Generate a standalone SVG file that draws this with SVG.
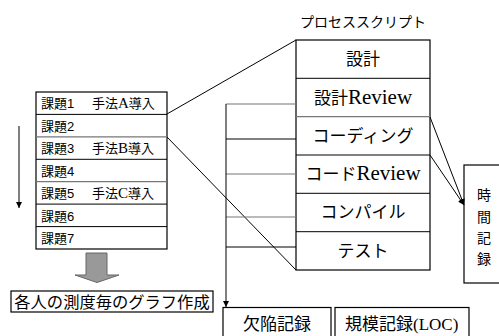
<svg xmlns="http://www.w3.org/2000/svg" width="499" height="336" viewBox="0 0 499 336">
<defs>
<marker id="ah" viewBox="0 0 10 10" refX="10" refY="5" markerWidth="6" markerHeight="6" markerUnits="userSpaceOnUse" orient="auto">
<path d="M0,0 L10,5 L0,10 z" fill="#000"/>
</marker>
</defs>
<style>
.box{fill:#fff;stroke:#000;stroke-width:1.2}
.ln{stroke:#000;stroke-width:1;fill:none}
.gl{stroke:#777;stroke-width:1.2;fill:none}
.t{font-family:"Liberation Sans","Noto Sans CJK JP",sans-serif;fill:#000}
.s{font-family:"Liberation Serif","Noto Sans CJK JP",serif}
</style>
<rect width="499" height="336" fill="#fff"/>

<g id="tasks">
<rect class="box" x="36" y="92" width="131" height="157"/>
<line class="ln" x1="36" y1="114.4" x2="167" y2="114.4"/>
<line class="gl" x1="36" y1="136.9" x2="167" y2="136.9"/>
<line class="ln" x1="36" y1="159.3" x2="167" y2="159.3"/>
<line class="gl" x1="36" y1="181.7" x2="167" y2="181.7"/>
<line class="ln" x1="36" y1="204.1" x2="167" y2="204.1"/>
<line class="ln" x1="36" y1="226.6" x2="167" y2="226.6"/>
<g class="t" font-size="13">
<text x="41" y="108">課題1</text><text x="92" y="108">手法<tspan class="s" font-size="15">A</tspan>導入</text>
<text x="41" y="130.5">課題2</text>
<text x="41" y="153">課題3</text><text x="92" y="153">手法<tspan class="s" font-size="15">B</tspan>導入</text>
<text x="41" y="175.5">課題4</text>
<text x="41" y="198">課題5</text><text x="92" y="198">手法<tspan class="s" font-size="15">C</tspan>導入</text>
<text x="41" y="220.5">課題6</text>
<text x="41" y="243">課題7</text>
</g>
</g>

<g id="script-title"><text class="t" x="363" y="27" font-size="14" text-anchor="middle">プロセススクリプト</text></g>

<g id="process">
<rect class="box" x="296" y="40" width="134" height="230"/>
<line class="ln" x1="296" y1="78.3" x2="430" y2="78.3"/>
<line class="gl" x1="296" y1="116.7" x2="430" y2="116.7"/>
<line class="ln" x1="296" y1="155" x2="430" y2="155"/>
<line class="ln" x1="296" y1="193.3" x2="430" y2="193.3"/>
<line class="ln" x1="296" y1="231.7" x2="430" y2="231.7"/>
<g class="t" font-size="17" text-anchor="middle">
<text x="363" y="65">設計</text>
<text x="363" y="104">設計<tspan class="s" font-size="21">Review</tspan></text>
<text x="363" y="142">コーディング</text>
<text x="363" y="180">コード<tspan class="s" font-size="21">Review</tspan></text>
<text x="363" y="218">コンパイル</text>
<text x="363" y="257">テスト</text>
</g>
</g>

<g id="time">
<rect class="box" x="464" y="165" width="50" height="118"/>
<g class="t" font-size="14" text-anchor="middle">
<text x="484" y="200">時</text>
<text x="484" y="222">間</text>
<text x="484" y="243">記</text>
<text x="484" y="264">録</text>
</g>
</g>

<g id="defect">
<rect class="box" x="223" y="307.5" width="108" height="40"/>
<text class="t" x="277" y="330" font-size="17" text-anchor="middle">欠陥記録</text>
</g>
<g id="size">
<rect class="box" x="335" y="307.5" width="134" height="40"/>
<text class="t" x="345" y="330" font-size="17">規模記録<tspan class="s">(LOC)</tspan></text>
</g>

<g id="graph">
<rect class="box" x="11" y="291" width="202" height="21"/>
<text class="t" x="112" y="307.5" font-size="16.3" text-anchor="middle">各人の測度毎のグラフ作成</text>
</g>

<g id="connectors">
<line class="ln" x1="167" y1="114" x2="296" y2="40"/>
<line class="ln" x1="167" y1="137" x2="296" y2="270"/>
<line class="ln" x1="19" y1="126" x2="19" y2="208" marker-end="url(#ah)"/>
<line class="gl" x1="226" y1="104" x2="296" y2="104"/>
<line class="ln" x1="226" y1="139" x2="296" y2="139"/>
<line class="gl" x1="226" y1="174" x2="296" y2="174"/>
<line class="gl" x1="226" y1="217" x2="296" y2="217"/>
<line class="ln" x1="226" y1="247" x2="296" y2="247"/>
<line class="ln" x1="226" y1="104" x2="226" y2="307" marker-end="url(#ah)"/>
<line class="ln" x1="430" y1="117" x2="464" y2="205" marker-end="url(#ah)"/>
<line class="ln" x1="430" y1="155" x2="464" y2="205" marker-end="url(#ah)"/>
<path d="M86,253 H107 V275 H119 L97,282.5 L75,275 H86 Z" fill="#999" stroke="#666" stroke-width="1"/>
</g>
</svg>
